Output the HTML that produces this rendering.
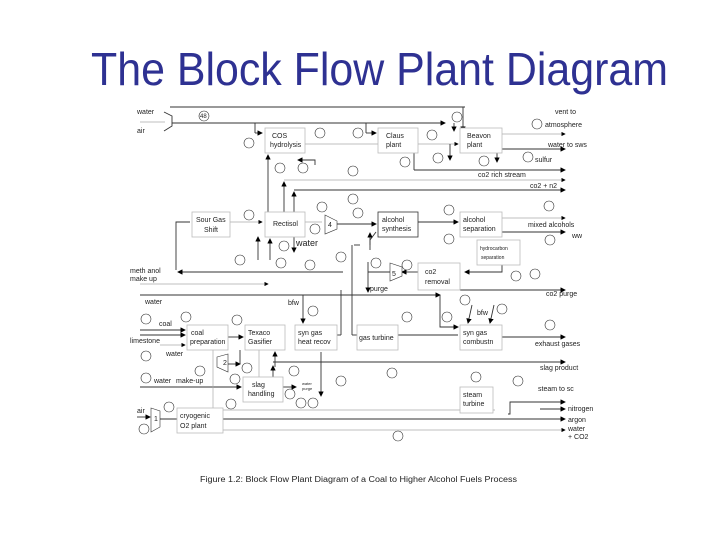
<!DOCTYPE html>
<html><head><style>
html,body{margin:0;padding:0;background:#fff;}
svg{display:block;}
text{font-family:"Liberation Sans",sans-serif;}
.t{font-size:7px;fill:#222;}
.b{fill:#fff;stroke:#bbb;stroke-width:0.8;}
.l{stroke:#333;stroke-width:0.9;fill:none;}
.g{stroke:#aaa;stroke-width:0.7;fill:none;}
.c{fill:#fff;stroke:#333;stroke-width:0.6;}
</style></head><body>
<svg width="720" height="540" viewBox="0 0 720 540" xmlns="http://www.w3.org/2000/svg">
<defs><marker id="a" markerWidth="6" markerHeight="6" refX="5" refY="3" orient="auto"><path d="M0,0 L6,3 L0,6 z" fill="#000"/></marker></defs>
<text x="91" y="85" font-size="46" fill="#2e3192" textLength="577" lengthAdjust="spacingAndGlyphs">The Block Flow Plant Diagram</text>

<!-- top lines -->
<line class="l" x1="170" y1="107" x2="465" y2="107"/>
<line class="l" x1="172" y1="123" x2="445" y2="123" marker-end="url(#a)"/>
<polyline class="l" points="164,112 172,116 172,126 164,131"/>
<line class="g" x1="140" y1="122" x2="165" y2="122"/>
<line class="l" x1="454" y1="123" x2="454" y2="131" marker-end="url(#a)"/>
<line class="l" x1="463" y1="107" x2="463" y2="131" marker-end="url(#a)"/>
<line class="l" x1="255" y1="123" x2="255" y2="133"/><line class="l" x1="255" y1="133" x2="262" y2="133" marker-end="url(#a)"/>
<line class="l" x1="366" y1="123" x2="366" y2="133"/><line class="l" x1="366" y1="133" x2="376" y2="133" marker-end="url(#a)"/>
<line class="g" x1="305" y1="144" x2="378" y2="144"/>
<line class="g" x1="418" y1="144" x2="458" y2="144" marker-end="url(#a)"/>
<line class="l" x1="450" y1="144" x2="450" y2="160" marker-end="url(#a)"/>
<line class="g" x1="502" y1="134" x2="565" y2="134" marker-end="url(#a)"/>
<line class="l" x1="502" y1="149" x2="565" y2="149" marker-end="url(#a)"/>
<line class="l" x1="497" y1="153" x2="497" y2="162" marker-end="url(#a)"/>
<line class="l" x1="414" y1="153" x2="414" y2="170" /><line class="l" x1="414" y1="170" x2="565" y2="170" marker-end="url(#a)"/>
<line class="g" x1="284" y1="180" x2="565" y2="180" marker-end="url(#a)"/>
<line class="l" x1="294" y1="190" x2="565" y2="190" marker-end="url(#a)"/>
<line class="l" x1="284" y1="212" x2="284" y2="182" marker-end="url(#a)"/>
<line class="l" x1="294" y1="212" x2="294" y2="192" marker-end="url(#a)"/>
<line class="l" x1="268" y1="212" x2="268" y2="155" marker-end="url(#a)"/>
<polyline class="l" points="315,165 315,160 298,160" marker-end="url(#a)"/>

<!-- middle -->
<line class="g" x1="230" y1="222" x2="262" y2="222" marker-end="url(#a)"/>
<line class="g" x1="305" y1="222" x2="322" y2="222"/>
<polygon class="c" points="325,215 337,221 337,229 325,234" fill="none"/>
<line class="l" x1="337" y1="224" x2="376" y2="224" marker-end="url(#a)"/>
<line class="l" x1="418" y1="222" x2="458" y2="222" marker-end="url(#a)"/>
<line class="g" x1="502" y1="218" x2="565" y2="218" marker-end="url(#a)"/>
<line class="l" x1="502" y1="232" x2="565" y2="232" marker-end="url(#a)"/>
<polyline class="l" points="370,250 370,240 376,232" />
<line class="l" x1="370" y1="245" x2="370" y2="233" marker-end="url(#a)"/>
<line class="l" x1="258" y1="260" x2="258" y2="237" marker-end="url(#a)"/>
<line class="l" x1="270" y1="260" x2="270" y2="239" marker-end="url(#a)"/>
<line class="l" x1="294" y1="237" x2="294" y2="252" marker-end="url(#a)"/>
<polyline class="l" points="190,222 176,222 176,270"/>
<line class="l" x1="343" y1="272" x2="178" y2="272" marker-end="url(#a)"/>
<line class="g" x1="140" y1="284" x2="268" y2="284" marker-end="url(#a)"/>
<polyline class="l" points="502,265 502,272 465,272" marker-end="url(#a)"/>
<line class="l" x1="418" y1="272" x2="402" y2="272" marker-end="url(#a)"/>
<polygon class="c" points="390,263 402,267 402,276 390,281" fill="none"/>
<line class="l" x1="390" y1="272" x2="368" y2="272"/>
<line class="l" x1="368" y1="262" x2="368" y2="292" marker-end="url(#a)"/>
<line class="l" x1="354" y1="245" x2="360" y2="245" />
<line class="l" x1="352" y1="300" x2="352" y2="245"/>
<line class="l" x1="460" y1="290" x2="565" y2="290" marker-end="url(#a)"/>

<!-- lower -->
<line class="l" x1="140" y1="295" x2="440" y2="295" marker-end="url(#a)"/>
<polyline class="l" points="440,295 440,327 458,327" marker-end="url(#a)"/>
<line class="l" x1="140" y1="335" x2="185" y2="335" marker-end="url(#a)"/>
<line class="l" x1="140" y1="330" x2="185" y2="330" marker-end="url(#a)"/>
<line class="g" x1="160" y1="345" x2="185" y2="345" marker-end="url(#a)"/>
<line class="l" x1="228" y1="337" x2="243" y2="337" marker-end="url(#a)"/>
<line class="l" x1="337" y1="335" x2="341" y2="335"/><line class="l" x1="341" y1="335" x2="341" y2="290"/>
<line class="l" x1="352" y1="300" x2="352" y2="335"/><line class="l" x1="352" y1="335" x2="357" y2="335"/>
<line class="l" x1="398" y1="335" x2="458" y2="335"/>
<line class="l" x1="502" y1="337" x2="565" y2="337" marker-end="url(#a)"/>
<line class="l" x1="472" y1="305" x2="468" y2="323" marker-end="url(#a)"/>
<line class="l" x1="494" y1="305" x2="490" y2="323" marker-end="url(#a)"/>
<line class="l" x1="303" y1="295" x2="303" y2="323" marker-end="url(#a)"/>
<line class="l" x1="275" y1="367" x2="275" y2="352" marker-end="url(#a)"/>
<polygon class="c" points="217,357 228,354 228,372 217,367" fill="none"/>
<line class="l" x1="228" y1="364" x2="240" y2="364" marker-end="url(#a)"/>
<line class="l" x1="240" y1="364" x2="240" y2="350"/>
<line class="l" x1="273" y1="377" x2="273" y2="366" marker-end="url(#a)"/>
<line class="l" x1="273" y1="362" x2="565" y2="362" marker-end="url(#a)"/>
<line class="l" x1="140" y1="387" x2="241" y2="387" marker-end="url(#a)"/>
<line class="l" x1="283" y1="387" x2="296" y2="387" marker-end="url(#a)"/>
<line class="l" x1="321" y1="352" x2="321" y2="396" marker-end="url(#a)"/>
<line class="g" x1="223" y1="410" x2="495" y2="410"/>
<line class="l" x1="223" y1="419" x2="565" y2="419" marker-end="url(#a)"/>
<line class="g" x1="223" y1="430" x2="565" y2="430" marker-end="url(#a)"/>
<polyline class="l" points="508,414 510,414 510,402 565,402" marker-end="url(#a)"/>
<line class="l" x1="540" y1="409" x2="565" y2="409" marker-end="url(#a)"/>
<line class="l" x1="137" y1="417" x2="150" y2="417" marker-end="url(#a)"/>
<polygon class="c" points="151,408 160,411 160,427 151,432" fill="none"/>
<line class="l" x1="160" y1="419" x2="177" y2="419"/>
<line class="g" x1="213" y1="350" x2="213" y2="408"/>
<line class="g" x1="259" y1="350" x2="259" y2="377"/>

<!-- boxes -->
<rect class="b" x="265" y="128" width="40" height="25"/><text class="t" x="272" y="138">COS</text><text class="t" x="270" y="147">hydrolysis</text>
<rect class="b" x="378" y="128" width="40" height="25"/><text class="t" x="386" y="138">Claus</text><text class="t" x="386" y="147">plant</text>
<rect class="b" x="460" y="128" width="42" height="25"/><text class="t" x="467" y="138">Beavon</text><text class="t" x="467" y="147">plant</text>
<rect class="b" x="192" y="212" width="38" height="25"/><text class="t" x="196" y="222">Sour Gas</text><text class="t" x="204" y="232">Shift</text>
<rect class="b" x="265" y="212" width="40" height="25"/><text class="t" x="273" y="226">Rectisol</text>
<rect class="b" x="378" y="212" width="40" height="25" style="stroke:#333"/><text class="t" x="382" y="222">alcohol</text><text class="t" x="382" y="231">synthesis</text>
<rect class="b" x="460" y="212" width="42" height="25"/><text class="t" x="463" y="222">alcohol</text><text class="t" x="463" y="231">separation</text>
<rect class="b" x="477" y="240" width="43" height="25"/><text class="t" x="480" y="250" style="font-size:5px">hydrocarbon</text><text class="t" x="481" y="259" style="font-size:5px">separation</text>
<rect class="b" x="418" y="263" width="42" height="27"/><text class="t" x="425" y="274">co2</text><text class="t" x="425" y="284">removal</text>
<rect class="b" x="187" y="325" width="41" height="25"/><text class="t" x="191" y="335">coal</text><text class="t" x="190" y="344">preparation</text>
<rect class="b" x="245" y="325" width="40" height="25"/><text class="t" x="248" y="335">Texaco</text><text class="t" x="248" y="344">Gasifier</text>
<rect class="b" x="295" y="325" width="42" height="25"/><text class="t" x="298" y="335">syn gas</text><text class="t" x="298" y="344">heat recov</text>
<rect class="b" x="357" y="325" width="41" height="25"/><text class="t" x="359" y="340">gas turbine</text>
<rect class="b" x="460" y="325" width="42" height="25"/><text class="t" x="463" y="335">syn gas</text><text class="t" x="463" y="344">combustn</text>
<rect class="b" x="243" y="377" width="40" height="25"/><text class="t" x="252" y="387">slag</text><text class="t" x="248" y="396">handling</text>
<rect class="b" x="177" y="408" width="46" height="25"/><text class="t" x="180" y="418">cryogenic</text><text class="t" x="180" y="428">O2 plant</text>
<rect class="b" x="460" y="387" width="33" height="26"/><text class="t" x="463" y="397">steam</text><text class="t" x="463" y="406">turbine</text>

<!-- labels -->
<text class="t" x="137" y="114">water</text><text class="t" x="137" y="133">air</text>
<text class="t" x="555" y="114">vent to</text><text class="t" x="545" y="127">atmosphere</text>
<text class="t" x="548" y="147">water to sws</text><text class="t" x="535" y="162">sulfur</text>
<text class="t" x="478" y="177">co2 rich stream</text><text class="t" x="530" y="188">co2 + n2</text>
<text class="t" x="528" y="227">mixed alcohols</text><text class="t" x="572" y="238">ww</text>
<text class="t" x="296" y="246" style="font-size:9px">water</text>
<text class="t" x="130" y="273">meth anol</text><text class="t" x="130" y="281">make up</text>
<text class="t" x="370" y="291">purge</text><text class="t" x="546" y="296">co2 purge</text>
<text class="t" x="145" y="304">water</text><text class="t" x="288" y="305">bfw</text><text class="t" x="477" y="315">bfw</text>
<text class="t" x="159" y="326">coal</text><text class="t" x="130" y="343">limestone</text><text class="t" x="166" y="356">water</text>
<text class="t" x="535" y="346">exhaust gases</text><text class="t" x="540" y="370">slag product</text>
<text class="t" x="154" y="383">water</text><text class="t" x="176" y="383">make-up</text>
<text class="t" x="302" y="385" style="font-size:4px">water</text><text class="t" x="302" y="390" style="font-size:4px">purge</text>
<text class="t" x="538" y="391">steam to sc</text>
<text class="t" x="568" y="411">nitrogen</text><text class="t" x="568" y="422">argon</text>
<text class="t" x="568" y="431">water</text><text class="t" x="568" y="439">+ CO2</text>
<text class="t" x="137" y="413">air</text>
<text class="t" x="328" y="227">4</text><text class="t" x="392" y="276">5</text><text class="t" x="223" y="365">2</text><text class="t" x="154" y="421">1</text>

<g style="font-size:6px">
<circle class="c" cx="204" cy="116" r="5"/><text class="t" x="200" y="118" style="font-size:6px">48</text>
<circle class="c" cx="457" cy="117" r="5"/><circle class="c" cx="537" cy="124" r="5"/>
<circle class="c" cx="249" cy="143" r="5"/><circle class="c" cx="320" cy="133" r="5"/><circle class="c" cx="358" cy="133" r="5"/>
<circle class="c" cx="432" cy="135" r="5"/><circle class="c" cx="438" cy="158" r="5"/><circle class="c" cx="405" cy="162" r="5"/>
<circle class="c" cx="484" cy="161" r="5"/><circle class="c" cx="528" cy="157" r="5"/><circle class="c" cx="280" cy="168" r="5"/>
<circle class="c" cx="303" cy="168" r="5"/><circle class="c" cx="353" cy="171" r="5"/><circle class="c" cx="353" cy="199" r="5"/>
<circle class="c" cx="249" cy="215" r="5"/><circle class="c" cx="322" cy="207" r="5"/><circle class="c" cx="315" cy="229" r="5"/>
<circle class="c" cx="358" cy="213" r="5"/><circle class="c" cx="449" cy="210" r="5"/><circle class="c" cx="549" cy="206" r="5"/>
<circle class="c" cx="449" cy="239" r="5"/><circle class="c" cx="550" cy="240" r="5"/><circle class="c" cx="284" cy="246" r="5"/>
<circle class="c" cx="240" cy="260" r="5"/><circle class="c" cx="281" cy="263" r="5"/><circle class="c" cx="310" cy="265" r="5"/>
<circle class="c" cx="341" cy="257" r="5"/><circle class="c" cx="376" cy="263" r="5"/><circle class="c" cx="407" cy="265" r="5"/>
<circle class="c" cx="516" cy="276" r="5"/><circle class="c" cx="535" cy="274" r="5"/><circle class="c" cx="465" cy="300" r="5"/>
<circle class="c" cx="313" cy="311" r="5"/><circle class="c" cx="502" cy="309" r="5"/><circle class="c" cx="146" cy="319" r="5"/>
<circle class="c" cx="186" cy="317" r="5"/><circle class="c" cx="237" cy="320" r="5"/><circle class="c" cx="407" cy="317" r="5"/>
<circle class="c" cx="447" cy="317" r="5"/><circle class="c" cx="550" cy="325" r="5"/><circle class="c" cx="146" cy="356" r="5"/>
<circle class="c" cx="200" cy="371" r="5"/><circle class="c" cx="247" cy="368" r="5"/><circle class="c" cx="294" cy="371" r="5"/>
<circle class="c" cx="392" cy="373" r="5"/><circle class="c" cx="146" cy="378" r="5"/><circle class="c" cx="235" cy="379" r="5"/>
<circle class="c" cx="341" cy="381" r="5"/><circle class="c" cx="476" cy="377" r="5"/><circle class="c" cx="518" cy="381" r="5"/>
<circle class="c" cx="290" cy="394" r="5"/><circle class="c" cx="169" cy="407" r="5"/><circle class="c" cx="231" cy="404" r="5"/>
<circle class="c" cx="301" cy="403" r="5"/><circle class="c" cx="313" cy="403" r="5"/><circle class="c" cx="144" cy="429" r="5"/>
<circle class="c" cx="398" cy="436" r="5"/>
</g>

<text x="200" y="482" style="font-size:8px;fill:#222" textLength="317" lengthAdjust="spacingAndGlyphs">Figure 1.2: Block Flow Plant Diagram of a Coal to Higher Alcohol Fuels Process</text>
</svg>
</body></html>
